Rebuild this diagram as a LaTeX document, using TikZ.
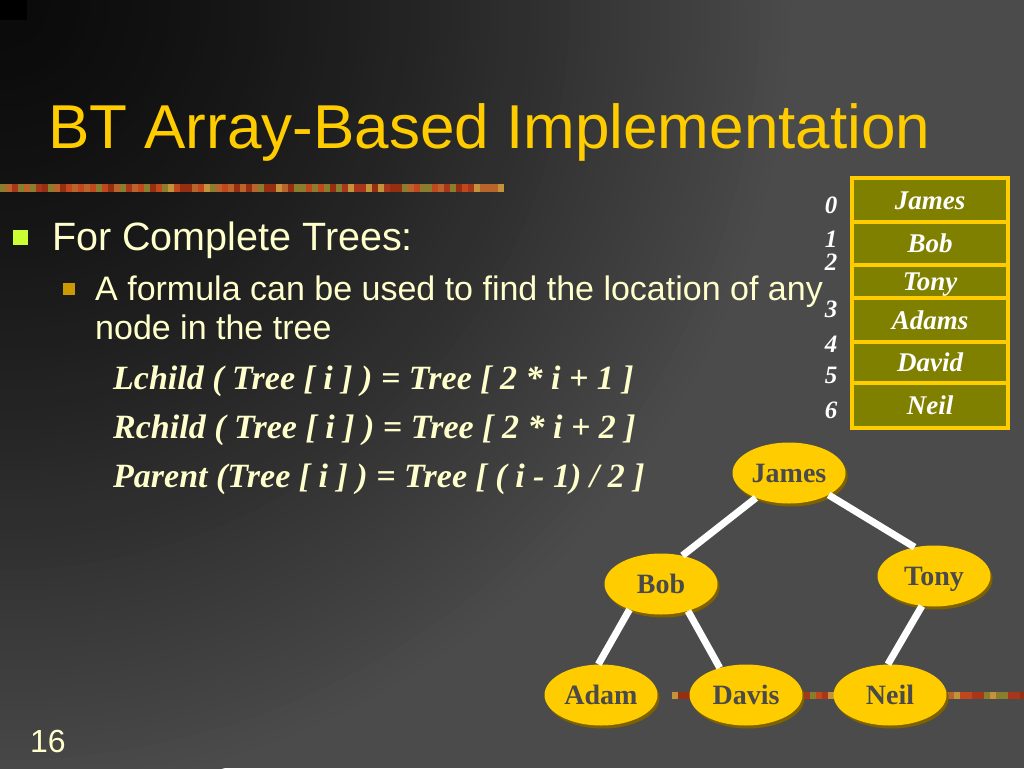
\documentclass[tikz,border=0pt]{standalone}
\usepackage{fontspec}
\setmainfont{Liberation Serif}
\setsansfont{Liberation Sans}
\definecolor{titlegold}{HTML}{FFCC00}
\definecolor{cream}{HTML}{FFFFCC}
\definecolor{bgdark}{HTML}{0A0A0A}
\definecolor{bglight}{HTML}{4B4B4B}
\definecolor{olivecell}{HTML}{808000}
\definecolor{nodetext}{HTML}{4A4A4A}
\definecolor{nodeshadow}{HTML}{7F6200}
\definecolor{bulletgreen}{HTML}{CCFF33}
\definecolor{bulletorange}{HTML}{CC9900}
\definecolor{bar0}{HTML}{B8642A}
\definecolor{bar1}{HTML}{962E12}
\definecolor{bar2}{HTML}{C0481C}
\definecolor{bar3}{HTML}{8A7E2E}
\definecolor{bar4}{HTML}{C4923A}
\definecolor{bar5}{HTML}{A8361A}
\usepackage{tikz}
\usetikzlibrary{shapes.geometric,shadows,positioning}

\begin{document}
\begin{tikzpicture}[
  x=1pt, y=-1pt,
  heading/.style={anchor=base west, inner sep=0pt, text=titlegold,
    font=\sffamily\fontsize{62}{70}\selectfont},
  level/.style={anchor=base west, inner sep=0pt, text=cream,
    font=\sffamily\fontsize{#1}{#1}\selectfont},
  bullet/.style={fill=#1, inner sep=0pt},
  formula/.style={anchor=base west, inner sep=0pt, text=cream,
    font=\bfseries\itshape\fontsize{34}{34}\selectfont},
  cell/.style={draw=titlegold, line width=4pt, fill=olivecell, minimum width=156pt,
    inner sep=0pt, text height=18pt, text depth=0pt, text=white,
    font=\bfseries\itshape\fontsize{27}{27}\selectfont},
  idx/.style={anchor=base, inner sep=0pt, text=white,
    font=\bfseries\itshape\fontsize{25}{25}\selectfont},
  tnode/.style={ellipse, fill=titlegold, minimum width=113pt, minimum height=61pt,
    inner sep=0pt, text height=18pt, text depth=0pt, text=nodetext,
    font=\bfseries\fontsize{28}{28}\selectfont,
    copy shadow={shadow xshift=2pt, shadow yshift=-3pt, fill=nodeshadow, draw=none}},
  link/.style={white, line width=7pt}
]
  \useasboundingbox (0,0) rectangle (1024,768);

  % Background
  \fill[bglight] (0,0) rectangle (1024,768);
  \begin{scope}
    \clip (0,0) rectangle (1024,768);
    \foreach \k in {80,...,1} {
      \pgfmathsetmacro{\p}{100*(\k/80)^1.4}
      \fill[bglight!\p!bgdark] (0,0) circle ({\k*10});
    }
    \fill[black] (0,0) rectangle (27,20);
  \end{scope}

  % Decorative bars
  \pgfmathsetseed{7}
  \foreach \k in {0,...,83} {
    \pgfmathtruncatemacro{\m}{random(0,5)}
    \fill[bar\m] ({\k*6},184) rectangle ({\k*6+6},192);
  }
  \foreach \k in {0,...,58} {
    \pgfmathtruncatemacro{\m}{random(0,5)}
    \fill[bar\m] ({672+\k*6},692) rectangle ({678+\k*6},699);
  }

  % Title
  \node[heading] (title) at (48,148) {BT Array-Based Implementation};

  % Bullets
  \node[bullet=bulletgreen, minimum size=15pt] (b1) at (20.5,237.5) {};
  \node[level=39.5] (lvl1) at (52,250) {For Complete Trees:};
  \node[bullet=bulletorange, minimum size=12pt] (b2) at (69,289) {};
  \node[level=34] (lvl2a) at (95,300) {A formula can be used to find the location of any};
  \node[level=34] (lvl2b) at (95,339) {node in the tree};

  % Formulas
  \node[formula] (lchild) at (113,389) {Lchild ( Tree [ i ] ) = Tree [ 2 * i + 1 ]};
  \node[formula] (rchild) at (113,438) {Rchild ( Tree [ i ] ) = Tree [ 2 * i + 2 ]};
  \node[formula] (parent) at (113,487) {Parent (Tree [ i ] ) = Tree [ ( i - 1) / 2 ]};

  % Array
  \foreach \i/\name/\top/\bot in {0/James/178/222, 1/Bob/222/265, 2/Tony/265/298,
      3/Adams/298/342, 4/David/342/383, 5/Neil/383/428}
    \node[cell, minimum height={\bot pt-\top pt}] (cell\i) at (930,{(\top+\bot)/2}) {\name};
  \foreach \i/\y in {0/213, 1/247, 2/270, 3/317, 4/352, 5/383, 6/418}
    \node[idx] (idx\i) at (831,\y) {\i};

  % Tree
  \node[tnode] (james) at (789,473) {James};
  \node[tnode] (bob) at (661,584) {Bob};
  \node[tnode] (tony) at (934,576) {Tony};
  \node[tnode] (adam) at (601,695) {Adam};
  \node[tnode] (davis) at (746,695) {Davis};
  \node[tnode] (neil) at (890,695) {Neil};

  \draw[link] (james.-143) -- (bob.53);
  \draw[link] (james.-29) -- (tony.124);
  \draw[link] (bob.-141) -- (adam.95);
  \draw[link] (bob.-45) -- (davis.134);
  \draw[link] (tony.-112) -- (neil.94);

  % Page number
  \node[level=32] (pagenum) at (30,752) {16};
\end{tikzpicture}
\end{document}
